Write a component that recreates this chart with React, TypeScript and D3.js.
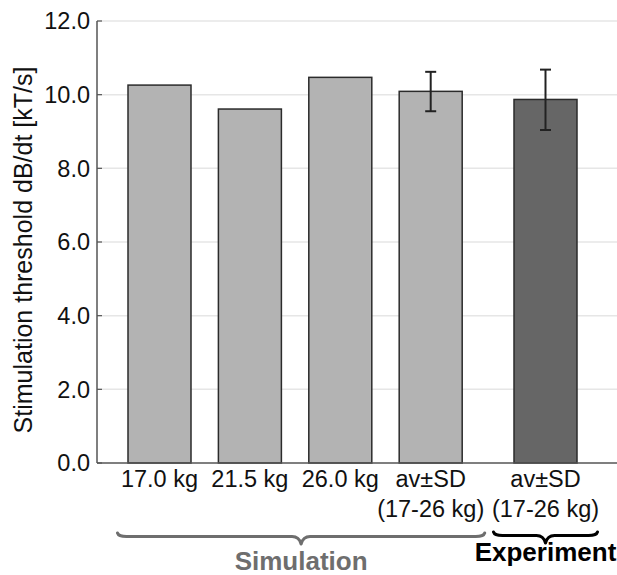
import React from "react";
import * as d3 from "d3";

const ids = ["s17", "s215", "s26", "savg", "eavg"];
const labelLine1 = ["17.0 kg", "21.5 kg", "26.0 kg", "av±SD", "av±SD"];
const labelLine2 = ["", "", "", "(17-26 kg)", "(17-26 kg)"];
const values = [10.26, 9.61, 10.47, 10.09, 9.87];
const errLow: (number | null)[] = [null, null, null, 9.55, 9.04];
const errHigh: (number | null)[] = [null, null, null, 10.62, 10.68];
const groups = ["Simulation", "Simulation", "Simulation", "Simulation", "Experiment"];
const groupNames = ["Simulation", "Experiment"];
const yTicks = [0, 2, 4, 6, 8, 10, 12];
const yTitle = "Stimulation threshold dB/dt [kT/s]";

const W = 617;
const H = 575;
const FONT = "'Liberation Sans', Arial, Helvetica, sans-serif";

export default function App() {
  const left = 97;
  const top = 21;
  const bottom = 463;
  const right = 617;

  const y = d3.scaleLinear().domain([0, 12]).range([bottom, top]);
  const groupGap = 0.27;
  const slot = (i: number) => i + (groups[i] === "Experiment" ? groupGap : 0);
  const x = d3
    .scaleLinear()
    .domain([0, slot(ids.length - 1)])
    .range([159.5, 545.5]);
  const barW = 63;
  const capW = 11;

  const fills: Record<string, string> = { Simulation: "#b3b3b3", Experiment: "#666666" };
  const braceColor: Record<string, string> = { Simulation: "#6e6e6e", Experiment: "#000000" };

  const brace = (x1: number, x2: number, y0: number) => {
    const mid = (x1 + x2) / 2;
    const yl = y0 + 3.5;
    const yt = y0 + 11;
    const r = 9;
    return (
      `M${x1},${y0} Q${x1 + 1},${yl} ${x1 + r},${yl} L${mid - r},${yl} Q${mid - 2},${yl} ${mid},${yt} ` +
      `M${x2},${y0} Q${x2 - 1},${yl} ${x2 - r},${yl} L${mid + r},${yl} Q${mid + 2},${yl} ${mid},${yt}`
    );
  };

  const groupExtent = (g: string) => {
    const idx = ids.map((_, i) => i).filter((i) => groups[i] === g);
    return [x(slot(idx[0])), x(slot(idx[idx.length - 1]))];
  };

  const braceSpec: Record<string, { pad: [number, number]; y0: number; ty: number }> = {
    Simulation: { pad: [42, 54], y0: 533, ty: 570 },
    Experiment: { pad: [52, 52], y0: 532, ty: 561 },
  };

  return (
    <svg
      width={W}
      height={H}
      style={{ position: "absolute", left: 0, top: 0, background: "#fff" }}
      fontFamily={FONT}
    >
      <rect width={W} height={H} fill="#fff" />
      {/* grid */}
      {yTicks.map((t) =>
        t === 0 ? null : (
          <line key={"g" + t} x1={left} x2={right} y1={y(t)} y2={y(t)} stroke="#e6e6e6" strokeWidth={1.5} />
        )
      )}
      {/* ticks & labels */}
      {yTicks.map((t) => (
        <g key={"t" + t}>
          <line x1={left} x2={left + 5} y1={y(t)} y2={y(t)} stroke="#555" strokeWidth={1.2} />
          <text x={90} y={y(t)} dy="0.36em" textAnchor="end" fontSize={23.5} fill="#111">
            {t.toFixed(1)}
          </text>
        </g>
      ))}
      {/* bars */}
      {values.map((v, i) => (
        <rect
          key={"b" + i}
          x={x(slot(i)) - barW / 2}
          y={y(v)}
          width={barW}
          height={y(0) - y(v)}
          fill={fills[groups[i]]}
          stroke="#2b2b2b"
          strokeWidth={1.5}
        />
      ))}
      {/* error bars */}
      {values.map((v, i) => {
        const lo = errLow[i];
        const hi = errHigh[i];
        if (lo == null || hi == null) return null;
        const cx = x(slot(i));
        return (
          <g key={"e" + i} stroke="#222" strokeWidth={2}>
            <line x1={cx} x2={cx} y1={y(hi)} y2={y(lo)} />
            <line x1={cx - capW / 2} x2={cx + capW / 2} y1={y(hi)} y2={y(hi)} />
            <line x1={cx - capW / 2} x2={cx + capW / 2} y1={y(lo)} y2={y(lo)} />
          </g>
        );
      })}
      {/* axes */}
      <line x1={left} x2={left} y1={top} y2={bottom} stroke="#555" strokeWidth={1.5} />
      <line x1={left} x2={right} y1={bottom} y2={bottom} stroke="#555" strokeWidth={1.5} />
      {/* x labels */}
      {ids.map((id, i) => (
        <g key={"l" + id}>
          <text x={x(slot(i))} y={487} textAnchor="middle" fontSize={23.5} fill="#111">
            {labelLine1[i]}
          </text>
          {labelLine2[i] && (
            <text x={x(slot(i))} y={517} textAnchor="middle" fontSize={23.5} fill="#111">
              {labelLine2[i]}
            </text>
          )}
        </g>
      ))}
      {/* y title */}
      <text
        transform={`translate(32,250) rotate(-90)`}
        textAnchor="middle"
        fontSize={25}
        fill="#111"
      >
        {yTitle}
      </text>
      {/* group braces */}
      {groupNames.map((g) => {
        const [a, b] = groupExtent(g);
        const s = braceSpec[g];
        const x1 = a - s.pad[0];
        const x2 = b + s.pad[1];
        return (
          <g key={"br" + g}>
            <path d={brace(x1, x2, s.y0)} fill="none" stroke={braceColor[g]} strokeWidth={3} strokeLinecap="round" />
            <text x={(x1 + x2) / 2} y={s.ty} textAnchor="middle" fontSize={26} fontWeight="bold" fill={braceColor[g]}>
              {g}
            </text>
          </g>
        );
      })}
    </svg>
  );
}
